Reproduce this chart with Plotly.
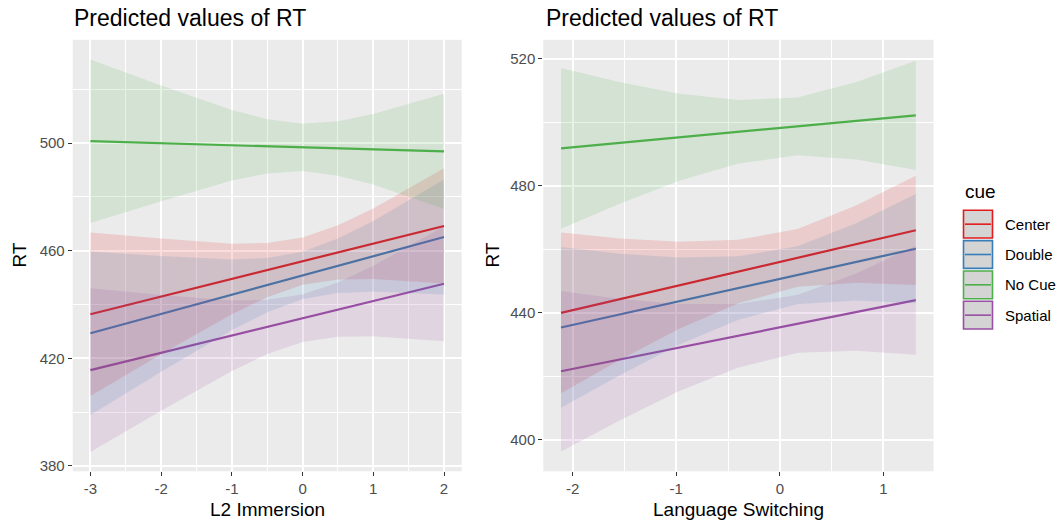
import plotly.graph_objects as go

W, H = 1059, 529

groups = ["Center", "Double", "No Cue", "Spatial"]
colors = ["#E41A1C", "#377EB8", "#4DAF4A", "#984EA3"]

# Left panel: L2 Immersion
xL = [-3, -2, -1, -0.5, 0, 0.5, 1, 2]
center_L_fit = [436.4, 443.0, 449.5, 452.8, 456.1, 459.4, 462.6, 469.2]
center_L_lo = [406.0, 421.5, 436.4, 442.7, 447.3, 449.3, 449.5, 447.8]
center_L_hi = [466.8, 464.5, 462.6, 462.9, 464.9, 469.5, 475.7, 490.6]
double_L_fit = [429.3, 436.5, 443.6, 447.2, 450.8, 454.4, 457.9, 465.1]
double_L_lo = [398.9, 415.0, 430.5, 437.1, 442.0, 444.3, 444.8, 443.7]
double_L_hi = [459.7, 458.0, 456.7, 457.3, 459.6, 464.5, 471.0, 486.5]
nocue_L_fit = [500.7, 499.9, 499.2, 498.8, 498.4, 498.0, 497.7, 496.9]
nocue_L_lo = [470.3, 478.4, 486.1, 488.7, 489.6, 487.9, 484.6, 475.5]
nocue_L_hi = [531.1, 521.4, 512.3, 508.9, 507.2, 508.1, 510.8, 518.3]
spatial_L_fit = [415.6, 422.0, 428.4, 431.7, 434.9, 438.1, 441.3, 447.7]
spatial_L_lo = [385.2, 400.5, 415.3, 421.6, 426.1, 428.0, 428.2, 426.3]
spatial_L_hi = [446.0, 443.5, 441.5, 441.8, 443.7, 448.2, 454.4, 469.1]

# Right panel: Language Switching
xR = [-2.113, -1.542, -0.971, -0.400, 0.171, 0.742, 1.313]
center_R_fit = [440.0, 444.3, 448.7, 453.0, 457.3, 461.7, 466.0]
center_R_lo = [414.7, 425.2, 435.0, 443.0, 448.2, 449.5, 448.8]
center_R_hi = [465.3, 463.4, 462.4, 463.0, 466.4, 473.9, 483.2]
double_R_fit = [435.4, 439.5, 443.7, 447.8, 451.9, 456.1, 460.2]
double_R_lo = [410.1, 420.4, 430.0, 437.8, 442.8, 443.9, 443.0]
double_R_hi = [460.7, 458.6, 457.4, 457.8, 461.0, 468.3, 477.4]
nocue_R_fit = [491.8, 493.5, 495.3, 497.0, 498.7, 500.5, 502.2]
nocue_R_lo = [466.5, 474.4, 481.6, 487.0, 489.6, 488.3, 485.0]
nocue_R_hi = [517.1, 512.6, 509.0, 507.0, 507.8, 512.7, 519.4]
spatial_R_fit = [421.6, 425.3, 429.1, 432.8, 436.5, 440.3, 444.0]
spatial_R_lo = [396.3, 406.2, 415.4, 422.8, 427.4, 428.1, 426.8]
spatial_R_hi = [446.9, 444.4, 442.8, 442.8, 445.6, 452.5, 461.2]

# Tick labels
xL_ticks = [-3, -2, -1, 0, 1, 2]
xL_ticklabels = ["-3", "-2", "-1", "0", "1", "2"]
yL_ticks = [380, 420, 460, 500]
xR_ticks = [-2, -1, 0, 1]
xR_ticklabels = ["-2", "-1", "0", "1"]
yR_ticks = [400, 440, 480, 520]

left = [(center_L_fit, center_L_lo, center_L_hi),
        (double_L_fit, double_L_lo, double_L_hi),
        (nocue_L_fit, nocue_L_lo, nocue_L_hi),
        (spatial_L_fit, spatial_L_lo, spatial_L_hi)]
right = [(center_R_fit, center_R_lo, center_R_hi),
         (double_R_fit, double_R_lo, double_R_hi),
         (nocue_R_fit, nocue_R_lo, nocue_R_hi),
         (spatial_R_fit, spatial_R_lo, spatial_R_hi)]

titles = ["Predicted values of RT", "Predicted values of RT"]
x_titles = ["L2 Immersion", "Language Switching"]
y_title = "RT"
legend_title = "cue"


def rgba(hexc, a):
    h = hexc.lstrip("#")
    r, g, b = int(h[0:2], 16), int(h[2:4], 16), int(h[4:6], 16)
    return f"rgba({r},{g},{b},{a})"


fig = go.Figure()

for xs, data, xa, ya in [(xL, left, "x", "y"), (xR, right, "x2", "y2")]:
    # lines first, ribbons drawn on top (as in the reference)
    for (fit, lo, hi), col, name in zip(data, colors, groups):
        fig.add_trace(go.Scatter(x=xs, y=fit, mode="lines", line=dict(width=2.2, color=col),
                                 xaxis=xa, yaxis=ya, name=name, showlegend=False))
    for (fit, lo, hi), col in zip(data, colors):
        fig.add_trace(go.Scatter(x=xs, y=hi, mode="lines", line=dict(width=0, color=col),
                                 xaxis=xa, yaxis=ya, showlegend=False, hoverinfo="skip"))
        fig.add_trace(go.Scatter(x=xs, y=lo, mode="lines", line=dict(width=0, color=col),
                                 fill="tonexty", fillcolor=rgba(col, 0.15),
                                 xaxis=xa, yaxis=ya, showlegend=False, hoverinfo="skip"))

FONT = "Liberation Sans, Arial, Helvetica, sans-serif"


def px_x(p):
    return p / W


def px_y(p):
    return 1 - p / H


axis_common = dict(
    showline=False, zeroline=False, ticks="outside", ticklen=4, tickwidth=1.1,
    tickcolor="#333333", tickfont=dict(family=FONT, size=15, color="#4D4D4D"),
    showgrid=True, gridcolor="white", gridwidth=1.5,
)

fig.update_layout(
    width=W, height=H,
    margin=dict(l=0, r=0, t=0, b=0),
    paper_bgcolor="white", plot_bgcolor="#EBEBEB",
    showlegend=False,
    xaxis=dict(domain=[px_x(72.7), px_x(461.7)], range=[-3.25, 2.25],
               tickmode="array", tickvals=xL_ticks, ticktext=xL_ticklabels,
               minor=dict(dtick=0.5, tick0=-3, showgrid=True, gridcolor="white", gridwidth=0.75, ticks=""),
               anchor="y", **axis_common),
    yaxis=dict(domain=[px_y(474), px_y(40)], range=[378.0, 538.4],
               tickmode="array", tickvals=yL_ticks,
               minor=dict(dtick=20, tick0=380, showgrid=True, gridcolor="white", gridwidth=0.75, ticks=""),
               anchor="x", **axis_common),
    xaxis2=dict(domain=[px_x(543.3), px_x(933.5)], range=[-2.284, 1.484],
                tickmode="array", tickvals=xR_ticks, ticktext=xR_ticklabels,
                minor=dict(dtick=0.5, tick0=-2, showgrid=True, gridcolor="white", gridwidth=0.75, ticks=""),
                anchor="y2", **axis_common),
    yaxis2=dict(domain=[px_y(474), px_y(40)], range=[390.1, 526.0],
                tickmode="array", tickvals=yR_ticks,
                minor=dict(dtick=20, tick0=400, showgrid=True, gridcolor="white", gridwidth=0.75, ticks=""),
                anchor="x2", **axis_common),
)

ann = []
# Panel titles
for xp, t in zip([72.0, 544.0], titles):
    ann.append(dict(text=t, x=px_x(xp), y=px_y(18), xref="paper", yref="paper",
                    xanchor="left", yanchor="middle", showarrow=False,
                    font=dict(family=FONT, size=23, color="black")))
# X axis titles
for xc, t in zip([(72.7 + 461.7) / 2, (543.3 + 933.5) / 2], x_titles):
    ann.append(dict(text=t, x=px_x(xc), y=px_y(512), xref="paper", yref="paper",
                    xanchor="center", yanchor="middle", showarrow=False,
                    font=dict(family=FONT, size=19, color="black")))
# Y axis titles
for xc in [20.0, 493.0]:
    ann.append(dict(text=y_title, x=px_x(xc), y=px_y(257), xref="paper", yref="paper",
                    xanchor="center", yanchor="middle", showarrow=False, textangle=-90,
                    font=dict(family=FONT, size=19, color="black")))
# Legend
ann.append(dict(text=legend_title, x=px_x(962.5), y=px_y(193), xref="paper", yref="paper",
                xanchor="left", yanchor="middle", showarrow=False,
                font=dict(family=FONT, size=19, color="black")))

shapes = []
key_tops = [210.7, 241.2, 271.7, 302.2]
key_h = 29.5
kx0, kx1 = 963.5, 992.5
for top, col, name in zip(key_tops, colors, groups):
    shapes.append(dict(type="rect", xref="paper", yref="paper",
                       x0=px_x(kx0), x1=px_x(kx1), y0=px_y(top + key_h - 0.8), y1=px_y(top + 0.8),
                       fillcolor="#D4D4D4", line=dict(color=col, width=1.6)))
    yc = top + key_h / 2
    shapes.append(dict(type="line", xref="paper", yref="paper",
                       x0=px_x(kx0 + 1.5), x1=px_x(kx1 - 1.5), y0=px_y(yc), y1=px_y(yc),
                       line=dict(color=col, width=1.6)))
    ann.append(dict(text=name, x=px_x(1003), y=px_y(yc), xref="paper", yref="paper",
                    xanchor="left", yanchor="middle", showarrow=False,
                    font=dict(family=FONT, size=15, color="black")))

fig.update_layout(annotations=ann, shapes=shapes)

fig.write_html("out.html",
               config={"displayModeBar": False},
               post_script="document.body.style.margin='0px';document.body.style.overflow='hidden';")
